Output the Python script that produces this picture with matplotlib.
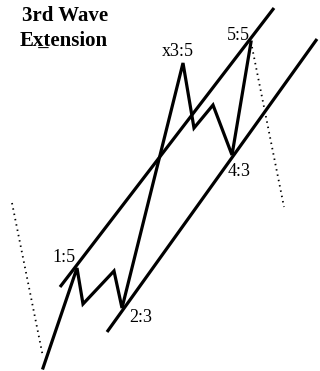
import matplotlib
matplotlib.use("Agg")
import matplotlib.pyplot as plt

# wave path (x, y), y grows downward
wave_x = [43, 77, 83, 114, 122, 183, 194, 213, 232, 251]
wave_y = [368, 268, 304, 271, 308, 63, 128, 105, 155, 42]

# channel lines
upper_x = [60, 274]
upper_y = [287, 8]
lower_x = [107, 317]
lower_y = [332, 39]

# dotted guide lines
dot_left_x = [12, 43]
dot_left_y = [203, 357]
dot_right_x = [252, 284]
dot_right_y = [47, 207]

# point labels
labels = ["1:5", "2:3", "x3:5", "4:3", "5:5"]
label_x = [64, 141, 178, 239, 238]
label_y = [257, 318, 52, 172, 35]

fig = plt.figure(figsize=(3.2, 3.71), dpi=100)
ax = fig.add_axes([0, 0, 1, 1])
ax.set_xlim(0, 320)
ax.set_ylim(371, 0)
ax.axis("off")

ax.plot(upper_x, upper_y, color="black", lw=2.3, solid_capstyle="butt")
ax.plot(lower_x, lower_y, color="black", lw=2.3, solid_capstyle="butt")
ax.plot(wave_x, wave_y, color="black", lw=2.3, solid_joinstyle="miter")
ax.plot(dot_left_x, dot_left_y, color="black", lw=1.3, linestyle=(0, (0.8, 2.2)))
ax.plot(dot_right_x, dot_right_y, color="black", lw=1.3, linestyle=(0, (0.8, 2.2)))

for s, x, y in zip(labels, label_x, label_y):
    ax.text(x, y, s, fontsize=13, family="Liberation Serif",
            ha="center", va="center", color="black")

ax.text(22, 16, "3rd Wave", fontsize=15, family="Liberation Serif",
        fontweight="bold", ha="left", va="center")
ax.text(20, 41, "E\u0078\u0332tension", fontsize=15, family="Liberation Serif",
        fontweight="bold", ha="left", va="center")

fig.savefig("out.png", dpi=100)
